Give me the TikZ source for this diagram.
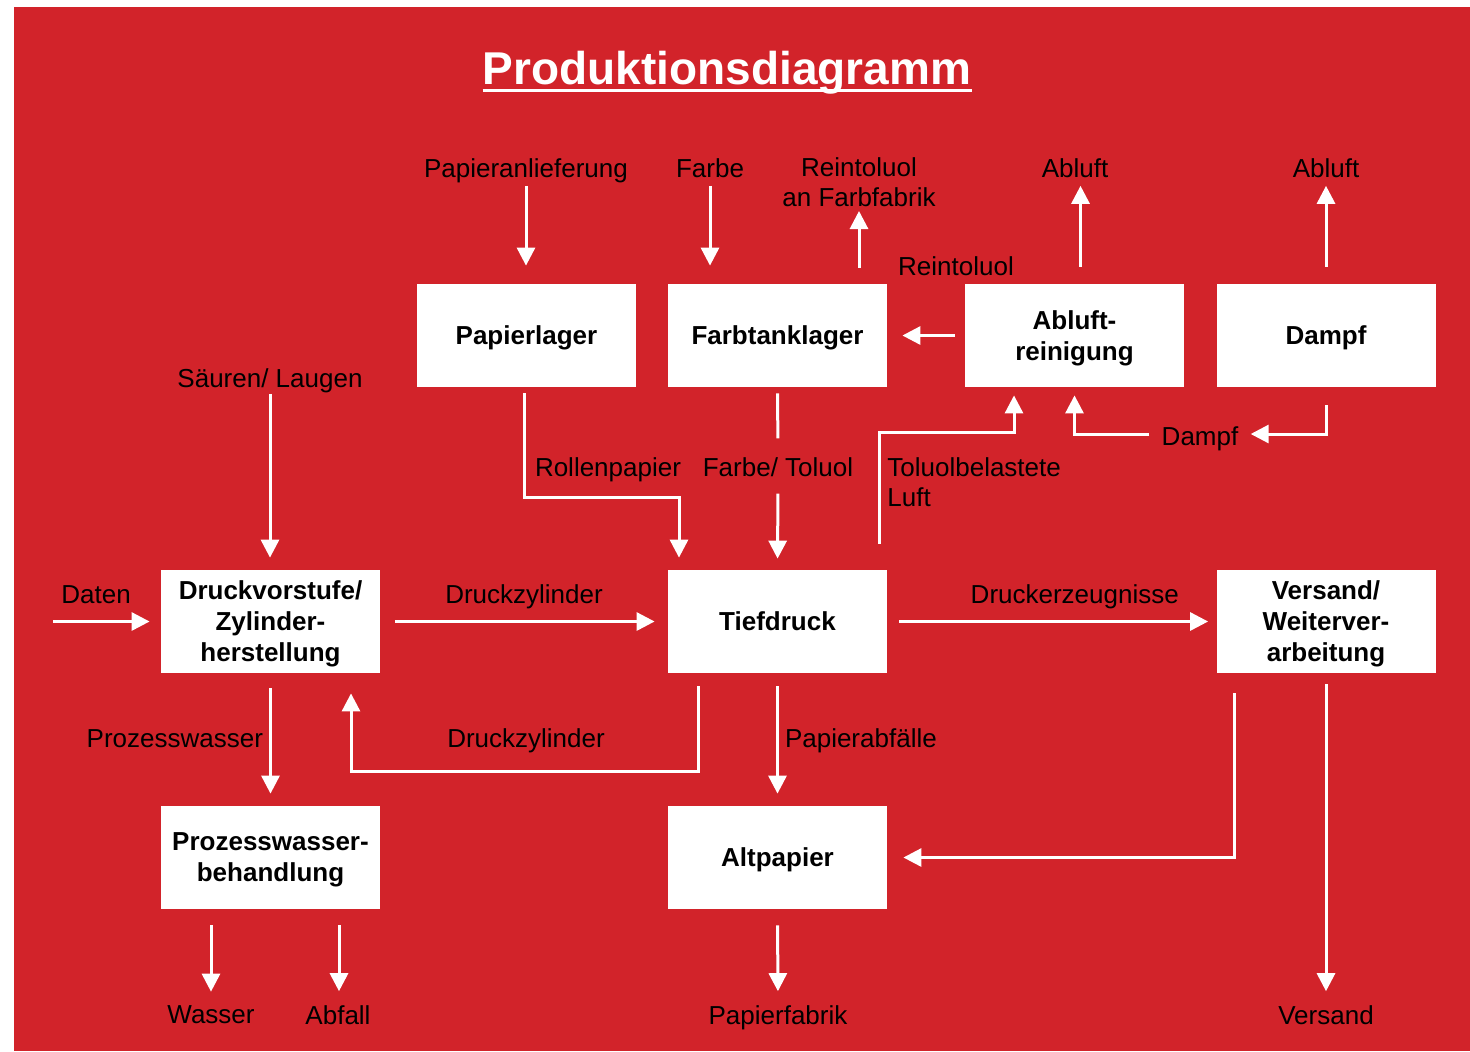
\documentclass[tikz,border=0pt]{standalone}
\usepackage{fontspec}
\setmainfont{Liberation Sans}
\usetikzlibrary{arrows.meta}
\definecolor{bgred}{RGB}{210,35,42}
\begin{document}
\begin{tikzpicture}[
    x=0.5pt,y=-0.5pt,
    box/.style={fill=white,minimum width=109.5pt,minimum height=51.5pt,inner sep=0pt,text depth=0pt,align=center,font=\fontsize{13}{15.5}\selectfont\bfseries},
    lbl/.style={inner sep=0pt,text depth=0pt,align=center,text=black,font=\fontsize{13}{15}\selectfont},
    arr/.style={->,white,line width=1.5pt},
    >={Triangle[length=9pt,width=9pt]}
]
\useasboundingbox (0,0) rectangle (1470,1051);
\fill[white] (0,0) rectangle (1470,1051);
\fill[bgred] (14,7) rectangle (1470,1051);

\node[inner sep=0pt,anchor=base,text=white,font=\fontsize{23}{27}\selectfont\bfseries] (title) at (727,84) {Produktionsdiagramm};
\draw[white,line width=1.5pt] ([yshift=-3pt]title.base west)--([yshift=-3pt]title.base east);

\node[box] (papier) at (526.5,335.5) {Papierlager};
\node[box] (farbtank) at (777.5,335.5) {Farbtanklager};
\node[box] (abr) at (1074.5,335.5) {Abluft-\\reinigung};
\node[box] (dampf) at (1326,335.5) {Dampf};
\node[box] (druck) at (270.5,621.5) {Druckvorstufe/\\Zylinder-\\herstellung};
\node[box] (tief) at (777.5,621.5) {Tiefdruck};
\node[box] (vers) at (1326,621.5) {Versand/\\Weiterver-\\arbeitung};
\node[box] (pw) at (270.5,857.5) {Prozesswasser-\\behandlung};
\node[box] (alt) at (777.5,857.5) {Altpapier};

\node[lbl] (papan) at (526,168) {Papieranlieferung};
\node[lbl] (farbe) at (710,168) {Farbe};
\node[lbl,anchor=south] (reinan) at (859,207) {Reintoluol\\an Farbfabrik};
\node[lbl] (abl1) at (1075,168) {Abluft};
\node[lbl] (abl2) at (1326,168) {Abluft};
\node[lbl] (reint) at (956,266) {Reintoluol};
\node[lbl] (saeur) at (270,378) {Säuren/ Laugen};
\node[lbl] (rollen) at (608,467) {Rollenpapier};
\node[lbl] (ftl) at (778,467) {Farbe/ Toluol};
\node[lbl,anchor=west,align=left] (toluol) at (887,482) {Toluolbelastete\\Luft};
\node[lbl] (dlbl) at (1200,436) {Dampf};
\node[lbl] (dzyl) at (526,738) {Druckzylinder};
\node[lbl] (wasser) at (211,1015) {Wasser};
\node[lbl] (abfall) at (338,1015) {Abfall};
\node[lbl] (papfab) at (778,1015) {Papierfabrik};
\node[lbl] (vsd) at (1326,1015) {Versand};

\coordinate (datin) at (53,621.5);
\coordinate (rpk) at (600,497);
\coordinate (tlk) at (950,432);
\coordinate (dzk) at (526,771);

\draw[arr,shorten <=4pt,shorten >=9pt] (papan.south)--(papan.south |- papier.north);
\draw[arr,shorten <=4pt,shorten >=9pt] (farbe.south)--(farbe.south |- farbtank.north);
\draw[arr,shorten <=8pt,shorten >=2pt] (reinan.south |- farbtank.north)--(reinan.south);
\draw[arr,shorten <=8.5pt,shorten >=4pt] ([xshift=3pt]abr.north)--([xshift=3pt]abr.north |- abl1.south);
\draw[arr,shorten <=8.5pt,shorten >=4pt] (dampf.north)--(dampf.north |- abl2.south);
\draw[arr,shorten <=5pt,shorten >=7.5pt] (abr)--(farbtank);
\draw[arr,shorten <=9pt,shorten >=6pt] (dampf.south) |- ([yshift=1pt]dlbl.east);
\draw[arr,shorten <=6pt,shorten >=4pt] ([yshift=1pt]dlbl.west) -| (abr.south);
\draw[arr,shorten <=13pt,shorten >=4pt] ([xshift=50.75pt]tief.north) |- (tlk) -| ([xshift=-30.25pt]abr.south);
\draw[arr,shorten <=3pt,shorten >=6pt] (saeur.south)--(saeur.south |- druck.north);
\draw[arr,shorten <=3pt,shorten >=6pt] ([xshift=-1.25pt]papier.south) |- (rpk) -| ([xshift=-49.25pt]tief.north);
\draw[white,line width=1.5pt,shorten <=3pt,shorten >=9.4pt] (farbtank.south)--(ftl.north);
\draw[arr,shorten <=8.4pt,shorten >=5.5pt] (ftl.south)--(tief.north);
\draw[arr,shorten >=5.5pt] (datin)--node[lbl,above=8.4pt,pos=0.4]{Daten}(druck);
\draw[arr,shorten <=7.5pt,shorten >=6.5pt] (druck)--node[lbl,above=8.4pt]{Druckzylinder}(tief);
\draw[arr,shorten <=6pt,shorten >=4pt] (tief)--node[lbl,above=8.4pt,pos=0.57]{Druckerzeugnisse}(vers);
\draw[arr,shorten <=6.5pt,shorten >=10pt] ([xshift=-39.75pt]tief.south) |- (dzk) -| ([xshift=40.25pt]druck.south);
\draw[arr,shorten <=7.5pt,shorten >=6pt] (druck)--node[lbl,left=3pt,pos=0.49]{Prozesswasser}(pw);
\draw[arr,shorten <=6.5pt,shorten >=6pt] (tief)--node[lbl,right=3pt,pos=0.49]{Papierabfälle}(alt);
\draw[arr,shorten <=10pt,shorten >=8pt] ([xshift=-46pt]vers.south) |- (alt.east);
\draw[arr,shorten <=5.5pt,shorten >=7pt] (vers.south)--(vsd.north);
\draw[arr,shorten <=8pt,shorten >=7pt] ([xshift=-29.75pt]pw.south)--([xshift=-29.75pt]pw.south |- wasser.north);
\draw[arr,shorten <=8pt,shorten >=7pt] ([xshift=34.25pt]pw.south)--([xshift=34.25pt]pw.south |- abfall.north);
\draw[arr,shorten <=8pt,shorten >=7pt] (alt.south)--(papfab.north);
\end{tikzpicture}
\end{document}
